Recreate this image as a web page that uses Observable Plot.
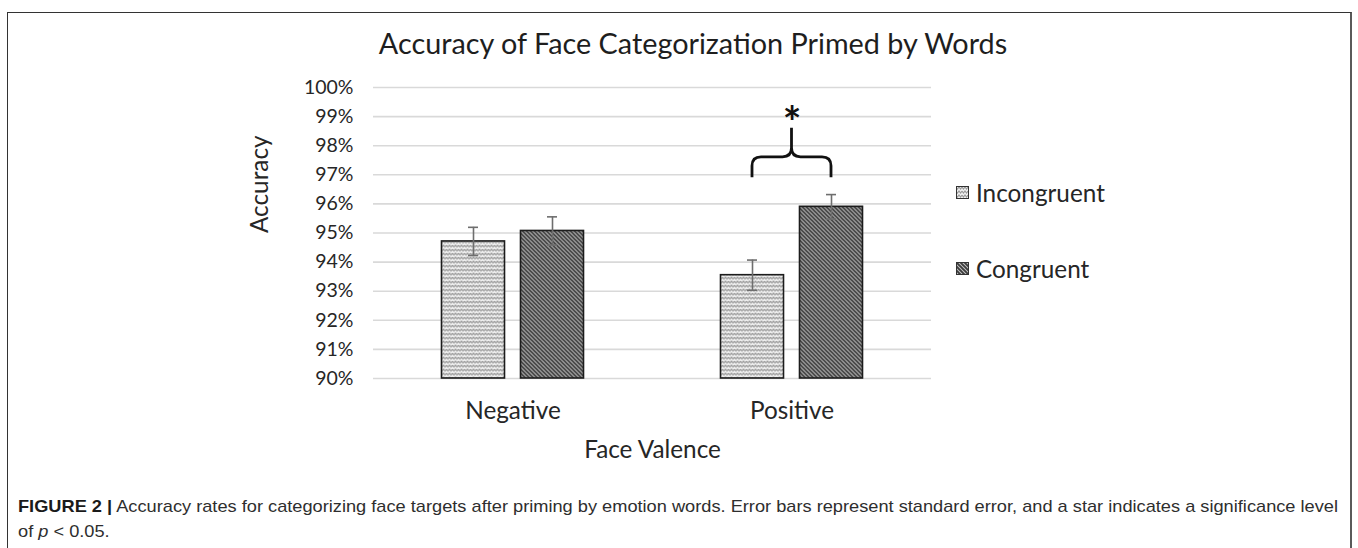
<!DOCTYPE html>
<html>
<head>
<meta charset="utf-8">
<script src="https://cdn.jsdelivr.net/npm/d3@7"></script>
<script src="https://cdn.jsdelivr.net/npm/@observablehq/plot@0.6"></script>
<style>
  html, body { margin: 0; padding: 0; background: #fff; }
  #wrap { position: relative; width: 1358px; height: 548px; overflow: hidden; font-family: Lato, sans-serif; }
  #frame { position: absolute; left: 7px; top: 12px; width: 1345px; height: 600px; box-sizing: border-box;
           border-top: 1.5px solid #333; border-left: 1.5px solid #333; border-right: 2px solid #5a5a5a; }
  #title { position: absolute; left: 0; width: 1386px; top: 26px; text-align: center; font-size: 28.8px; color: #1e1e1e; white-space: nowrap; }
  #chart { position: absolute; left: 0; top: 0; }
  .leg { position: absolute; left: 956px; display: flex; align-items: center; font-size: 24.3px; color: #262626; white-space: nowrap; }
  .leg svg { margin-right: 7px; }
  #caption { position: absolute; left: 18px; top: 494px; font-family: "Liberation Sans", Arial, sans-serif; font-size: 17px;
             line-height: 25px; color: #2e2e2e; transform-origin: 0 0; white-space: nowrap; }
  #caption b { color: #1a1a1a; }
</style>
</head>
<body>
<svg width="0" height="0" style="position:absolute">
  <defs>
    <pattern id="zig" patternUnits="userSpaceOnUse" width="6" height="4">
      <rect width="6" height="4" fill="#f1f1f1"></rect>
      <path d="M0,1 L1.5,3 L3,1 L4.5,3 L6,1" fill="none" stroke="#9a9a9a" stroke-width="1.1"></path>
    </pattern>
    <pattern id="diag" patternUnits="userSpaceOnUse" width="4" height="4">
      <rect width="4" height="4" fill="#c4c4c4"></rect>
      <path d="M-1,-1 L5,5 M-1,3 L1,5 M3,-1 L5,1" stroke="#3c3c3c" stroke-width="1.9"></path>
    </pattern>
  </defs>
</svg>
<div id="wrap">
  <div id="frame"></div>
  <div id="title">Accuracy of Face Categorization Primed by Words</div>
  <div id="chart"></div>
  <div class="leg" style="top:178px"><svg width="13" height="13"><rect x="0.5" y="0.5" width="12" height="12" fill="url(#zig)" stroke="#333"></rect></svg><span id="leg0"></span></div>
  <div class="leg" style="top:254px"><svg width="13" height="13"><rect x="0.5" y="0.5" width="12" height="12" fill="url(#diag)" stroke="#333"></rect></svg><span id="leg1"></span></div>
  <div id="caption">
    <div id="cap1"><b>FIGURE 2 |</b> Accuracy rates for categorizing face targets after priming by emotion words. Error bars represent standard error, and a star indicates a significance level</div>
    <div>of <i>p</i> &lt; 0.05.</div>
  </div>
</div>
<script>
// ---- data ----
const valences = ["Negative", "Positive"];
const conditions = ["Incongruent", "Congruent"];
const incongruentAccuracy = [94.71, 93.55];
const congruentAccuracy = [95.07, 95.90];
const incongruentSE = [0.485, 0.52];
const congruentSE = [0.485, 0.42];
const yTicks = [90, 91, 92, 93, 94, 95, 96, 97, 98, 99, 100];
const yTickLabels = ["90%", "91%", "92%", "93%", "94%", "95%", "96%", "97%", "98%", "99%", "100%"];
const xTitle = "Face Valence";
const yTitle = "Accuracy";
const significantGroup = "Positive";
const significanceLabel = "*";
const braceArmLevel = 96.9;
const braceBarLevel = 97.6;
const braceTipLevel = 98.6;
const starLevel = 99.1;

// ---- build table ----
const accByCondition = {Incongruent: incongruentAccuracy, Congruent: congruentAccuracy};
const seByCondition = {Incongruent: incongruentSE, Congruent: congruentSE};
const rows = valences.flatMap((v, i) => conditions.map(c => ({
  valence: v, condition: c, value: accByCondition[c][i], se: seByCondition[c][i]
})));

const fills = {Incongruent: "url(#zig)", Congruent: "url(#diag)"};
const offsets = {Incongruent: -39.5, Congruent: 39.5};
const barInset = 108;
const capInset = 134.5;

document.getElementById("leg0").textContent = conditions[0];
document.getElementById("leg1").textContent = conditions[1];

const barMarks = conditions.flatMap(c => {
  const d = rows.filter(r => r.condition === c);
  return [
    Plot.barY(d, {x: "valence", y1: 90, y2: "value", fill: fills[c], stroke: "#1c1c1c", strokeWidth: 1.6,
                  insetLeft: barInset, insetRight: barInset, dx: offsets[c]}),
    Plot.ruleX(d, {x: "valence", y1: r => r.value - r.se, y2: r => r.value + r.se, dx: offsets[c],
                   stroke: "#6e6e6e", strokeWidth: 1.6}),
    Plot.tickY(d, {x: "valence", y: r => r.value + r.se, dx: offsets[c], insetLeft: capInset, insetRight: capInset,
                   stroke: "#6e6e6e", strokeWidth: 1.6}),
    Plot.tickY(d, {x: "valence", y: r => r.value - r.se, dx: offsets[c], insetLeft: capInset, insetRight: capInset,
                   stroke: "#6e6e6e", strokeWidth: 1.6})
  ];
});

function brace(index, scales) {
  const x = scales.x, y = scales.y;
  const bw = typeof x.bandwidth === "function" ? x.bandwidth() : 0;
  const cx = x(significantGroup) + bw / 2;
  const xl = cx + offsets.Incongruent, xr = cx + offsets.Congruent;
  const yA = y(braceArmLevel), yB = y(braceBarLevel), yT = y(braceTipLevel);
  const r = 9;
  const d = `M${xl},${yA} V${yB + r} Q${xl},${yB} ${xl + r},${yB} H${cx - r} Q${cx},${yB} ${cx},${yB - r} V${yT}` +
            ` M${cx},${yB - r} Q${cx},${yB} ${cx + r},${yB} H${xr - r} Q${xr},${yB} ${xr},${yB + r} V${yA}`;
  const g = d3.create("svg:g");
  g.append("path").attr("d", d).attr("fill", "none").attr("stroke", "#111").attr("stroke-width", 2.8)
    .attr("stroke-linejoin", "round");
  return g.node();
}

const chart = Plot.plot({
  width: 1358,
  height: 480,
  marginTop: 87,
  marginBottom: 102,
  marginLeft: 373,
  marginRight: 427,
  style: {fontFamily: "Lato, sans-serif", fontSize: "19px", color: "#262626", background: "transparent", overflow: "visible"},
  x: {type: "band", domain: valences, padding: 0},
  y: {domain: [90, 100]},
  marks: [
    Plot.ruleY(yTicks, {stroke: "#d9d9d9", strokeWidth: 1.6}),
    Plot.axisY({ticks: yTicks, tickFormat: d => yTickLabels[yTicks.indexOf(d)], tickSize: 0, tickPadding: 20,
                fontSize: 19.5, label: null}),
    Plot.axisX({tickSize: 0, tickPadding: 23, fontSize: 24.3, label: null}),
    ...barMarks,
    brace,
    Plot.text([significantGroup], {x: d => d, y: starLevel, text: () => significanceLabel, fontSize: 44,
                                   fontWeight: 700, fill: "#111", lineAnchor: "middle", dy: 10}),
    Plot.text([yTitle], {frameAnchor: "left", dx: -113, rotate: -90, text: d => d, fontSize: 24.3}),
    Plot.text([xTitle], {frameAnchor: "bottom", dy: 79, text: d => d, fontSize: 24.3})
  ]
});
document.getElementById("chart").appendChild(chart);

// fit the first caption line to its width in the figure
const cap1 = document.getElementById("cap1");
cap1.style.display = "inline-block";
const w = cap1.getBoundingClientRect().width;
document.getElementById("caption").style.transform = `scaleX(${(1320 / w).toFixed(4)})`;
</script>
</body>
</html>
